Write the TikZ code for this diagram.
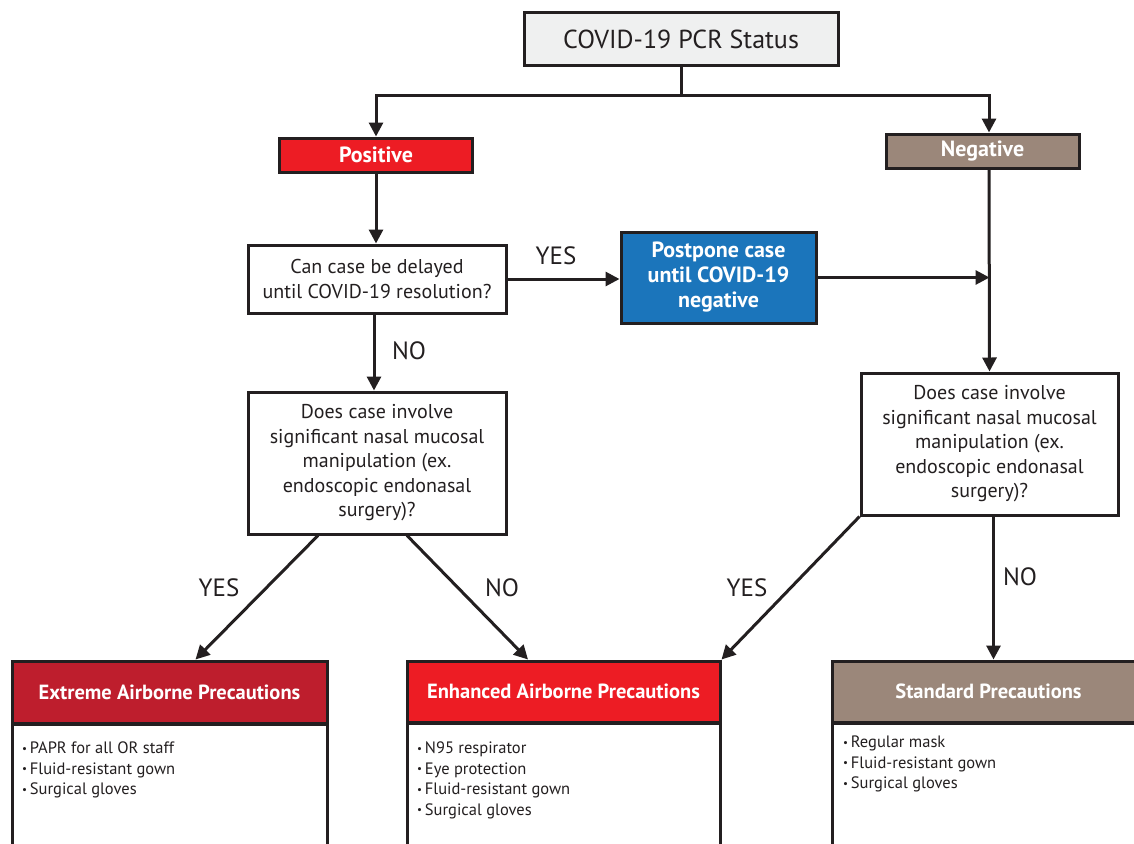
\documentclass[tikz,border=0pt]{standalone}
\usepackage{fontspec}
\setmainfont{PT Sans}
\usetikzlibrary{arrows.meta,calc}
\definecolor{ink}{HTML}{231F20}
\definecolor{topgray}{HTML}{EFF0F0}
\definecolor{posred}{HTML}{ED1C24}
\definecolor{negbrown}{HTML}{9B877A}
\definecolor{ppblue}{HTML}{1B75BB}
\definecolor{extred}{HTML}{BE1E2D}
\newcommand{\bul}{{\fontsize{11}{11}\selectfont\raisebox{1.5pt}{•}}\,}
\begin{document}
\begin{tikzpicture}[x=1pt,y=-1pt,
  box/.style={draw=ink, line width=3pt, inner sep=0pt, align=center, text=ink},
  qfont/.style={font=\fontsize{20}{24.5}\selectfont},
  wbold/.style={text=white, font=\bfseries\fontsize{22}{25}\selectfont},
  hdr/.style={box, minimum height=62pt, text=white, font=\bfseries\fontsize{20.5}{24}\selectfont},
  body/.style={draw=ink, line width=3pt, fill=white, minimum height=150pt, anchor=north},
  items/.style={anchor=north west, inner sep=0pt, align=left, text=ink, font=\fontsize{16.5}{20.5}\selectfont},
  arr/.style={draw=ink, line width=3pt, -{Triangle[length=14pt,width=14pt]}},
  ln/.style={draw=ink, line width=3pt},
  lbl/.style={text=ink, font=\fontsize{25}{30}\selectfont, inner sep=0pt},
]
\useasboundingbox (0,0) rectangle (1134,843);
\clip (0,0) rectangle (1134,843);
\fill[white] (0,0) rectangle (1134,843);

% nodes
\node[box, fill=topgray, minimum width=314pt, minimum height=52pt, font=\fontsize{26}{30}\selectfont] (top) at (681,39) {COVID-19 PCR Status};
\node[box, fill=posred, minimum width=193pt, minimum height=34pt, wbold] (pos) at (376,155) {Positive};
\node[box, fill=negbrown, minimum width=193pt, minimum height=34pt, wbold] (neg) at (982.5,151) {Negative};
\node[box, fill=white, minimum width=258pt, minimum height=68pt, qfont] (q1) at (377,279) {Can case be delayed\\until COVID-19 resolution?};
\node[box, fill=ppblue, minimum width=195pt, minimum height=91pt, wbold] (pp) at (718.5,277.5) {Postpone case\\until COVID-19\\negative};
\node[box, fill=white, minimum width=258pt, minimum height=142pt, qfont] (q2) at (377,463) {Does case involve\\significant nasal mucosal\\manipulation (ex.\\endoscopic endonasal\\surgery)?};
\node[box, fill=white, minimum width=257pt, minimum height=142pt, qfont] (q3) at (989.5,444) {Does case involve\\significant nasal mucosal\\manipulation (ex.\\endoscopic endonasal\\surgery)?};

% bottom boxes
\node[body, minimum width=315pt] (extb) at (169.5,723) {};
\node[hdr, fill=extred, minimum width=315pt] (ext) at (169.5,692) {Extreme Airborne Precautions};
\node[items] (exti) at (22,742) {\bul PAPR for all OR staff\\\bul Fluid-resistant gown\\\bul Surgical gloves};

\node[body, minimum width=313pt] (enhb) at (563.5,722) {};
\node[hdr, fill=posred, minimum width=313pt, minimum height=61pt] (enh) at (563.5,691.5) {Enhanced Airborne Precautions};
\node[items] (enhi) at (417,742) {\bul N95 respirator\\\bul Eye protection\\\bul Fluid-resistant gown\\\bul Surgical gloves};

\node[body, minimum width=313pt] (stdb) at (988.5,722) {};
\node[hdr, fill=negbrown, minimum width=313pt, minimum height=61pt] (std) at (988.5,691.5) {Standard Precautions};
\node[items] (stdi) at (843,736) {\bul Regular mask\\\bul Fluid-resistant gown\\\bul Surgical gloves};

% connectors
\coordinate (split) at (681,95);
\coordinate (negin) at ($(neg.north)+(6.5,0)$);
\coordinate (negout) at ($(neg.south)+(6.5,0)$);
\coordinate (q1out) at ($(q1.south)+(-3,0)$);
\coordinate (q2in) at ($(q2.north)+(-3,0)$);
\coordinate (q2l) at ($(q2.south)+(-59,0)$);
\coordinate (q2r) at ($(q2.south)+(30,0)$);
\coordinate (extin) at ($(ext.north)+(26,0)$);
\coordinate (enhin) at ($(enh.north)+(-35.5,0)$);
\coordinate (q3out) at ($(q3.south)+(4,0)$);
\draw[ln] (top.south) -- (split);
\draw[arr] (split) -| (pos.north);
\draw[arr] (split) -| (negin);
\draw[arr] (pos.south) -- (pos.south |- q1.north);
\draw[arr] (negout) -- (q3.north);
\draw[arr] (q1.east) -- (q1.east -| pp.west);
\draw[arr] (pp.east) -- (pp.east -| q3.north);
\draw[arr] (q1out) -- (q2in);
\draw[arr] (q2l) -- (extin);
\draw[arr] (q2r) -- (enhin);
\draw[arr] (q3.south west) -- (enh.north east);
\draw[arr] (q3out) -- (q3out |- std.north);

% labels
\node[lbl] (l1) at (556,256) {YES};
\node[lbl] (l2) at (409,351) {NO};
\node[lbl] (l3) at (219,588) {YES};
\node[lbl] (l4) at (502,588) {NO};
\node[lbl] (l5) at (747,588) {YES};
\node[lbl] (l6) at (1020,577) {NO};
\end{tikzpicture}
\end{document}
